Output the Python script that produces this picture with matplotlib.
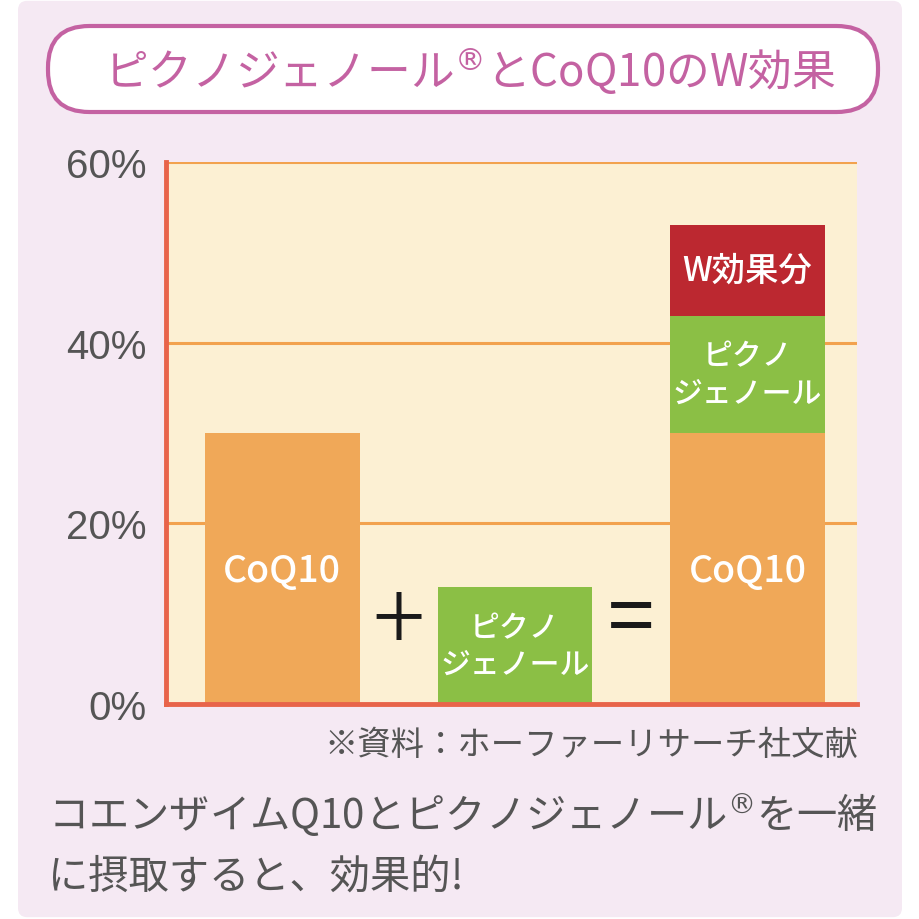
import matplotlib
matplotlib.use('Agg')
import matplotlib.pyplot as plt
from matplotlib.patches import FancyBboxPatch

plt.rcParams['font.family'] = ['Noto Sans CJK JP', 'DejaVu Sans']

# data (percent)
positions = [0, 1, 2]
coq10 = [30, 0, 30]
pycno = [0, 13, 13]
w_effect = [0, 0, 10]
yticks = [0, 20, 40, 60]
ytick_labels = ['0%', '20%', '40%', '60%']

title = 'ピクノジェノール$^{®}$とCoQ10のW効果'
source = '※資料：ホーファーリサーチ社文献'
caption1 = 'コエンザイムQ10とピクノジェノール$^{®}$を一緒'
caption2 = 'に摂取すると、効果的!'

c_bg = '#F5E9F3'
c_plot = '#FCF0D3'
c_orange = '#F0A858'
c_green = '#8BBF45'
c_red = '#BC2830'
c_grid = '#F2A24E'
c_spine = '#E8644A'
c_title = '#C462A2'
c_text = '#555555'

fig = plt.figure(figsize=(9.2, 9.2), dpi=100)
fig.patch.set_facecolor('white')

# background panel
panel = FancyBboxPatch((18 / 920, 0.002), 884 / 920, 0.996,
                       boxstyle='round,pad=0,rounding_size=0.01',
                       transform=fig.transFigure, facecolor=c_bg,
                       edgecolor='none', zorder=-2)
fig.patches.append(panel)

# title box
tbox = FancyBboxPatch((48 / 920, 1 - 113 / 920), 830 / 920, 86 / 920,
                      boxstyle='round,pad=0,rounding_size=0.045',
                      transform=fig.transFigure, facecolor='white',
                      edgecolor=c_title, linewidth=3, zorder=-1)
fig.patches.append(tbox)
fig.text(470 / 920, 1 - 71 / 920, title, ha='center', va='center',
         fontsize=31.5, color=c_title)

ax = fig.add_axes([166 / 920, 1 - 705 / 920, 691 / 920, 542 / 920])
ax.set_zorder(2)
ax.set_facecolor(c_plot)
ax.set_xlim(-0.5, 2.47)
ax.set_ylim(0, 60)

for y in yticks[1:]:
    ax.axhline(y, color=c_grid, linewidth=2.2, zorder=1)

w = 0.665
ax.bar(positions, coq10, width=w, color=c_orange, zorder=2)
ax.bar(positions, pycno, width=w, bottom=coq10, color=c_green, zorder=2)
bottom3 = [a + b for a, b in zip(coq10, pycno)]
ax.bar(positions, w_effect, width=w, bottom=bottom3, color=c_red, zorder=2)

lbl = dict(ha='center', va='center', color='white', zorder=3,
           fontweight='medium')
ax.text(0, 14.8, 'CoQ10', fontsize=27, **lbl)
ax.text(2, 14.8, 'CoQ10', fontsize=27, **lbl)
ax.text(1, 6.4, 'ピクノ\nジェノール', fontsize=21.5, linespacing=1.25, **lbl)
ax.text(2, 36.5, 'ピクノ\nジェノール', fontsize=21.5, linespacing=1.25, **lbl)
ax.text(2, 48.0, 'W効果分', fontsize=24, **lbl)

ax.text(0.5, 8.9, '+', ha='center', va='center', fontsize=70,
        color='#1a1a1a', fontweight='light', zorder=3)
ax.text(1.5, 9.2, '=', ha='center', va='center', fontsize=60,
        color='#1a1a1a', zorder=3)

ax.set_yticks(yticks)
ax.set_yticklabels(ytick_labels, fontsize=29, color=c_text,
                   family=['Liberation Sans', 'DejaVu Sans'])
ax.set_xticks([])
ax.tick_params(axis='y', length=0, pad=14)
for s in ['top', 'right']:
    ax.spines[s].set_visible(False)
for s in ['left', 'bottom']:
    ax.spines[s].set_color(c_spine)
    ax.spines[s].set_linewidth(3.5)

fig.text(858 / 920, 1 - 745 / 920, source, ha='right', va='center',
         fontsize=24, color=c_text)
fig.text(48 / 920, 1 - 815 / 920, caption1, ha='left', va='center',
         fontsize=29, color=c_text)
fig.text(48 / 920, 1 - 877 / 920, caption2, ha='left', va='center',
         fontsize=29, color=c_text)

fig.savefig('out.png', dpi=100, facecolor=fig.get_facecolor())
